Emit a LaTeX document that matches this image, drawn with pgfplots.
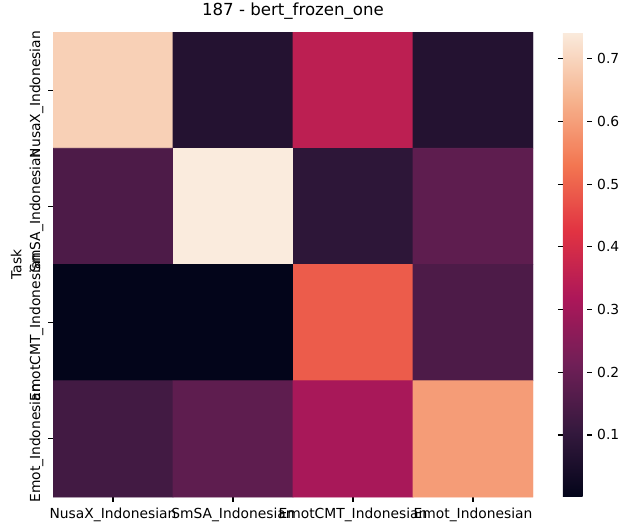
\documentclass[border=0pt]{standalone}
\usepackage{pgfplots}
\pgfplotsset{compat=1.18}
\usepackage{pgfplotstable}
\usepackage{fontspec}
\setmainfont{DejaVu Sans}
\pgfplotstableread{
x y c
0 0 0.69
1 0 0.07
2 0 0.35
3 0 0.07
0 1 0.15
1 1 0.743
2 1 0.09
3 1 0.18
0 2 0.002
1 2 0.001
2 2 0.49
3 2 0.15
0 3 0.13
1 3 0.18
2 3 0.31
3 3 0.595
}\datatable
\begin{document}
\begin{tikzpicture}
\begin{axis}[
  at={(0,0)}, anchor=south west,
  scale only axis,
  width=345.6bp, height=334.8bp,
  xmin=-0.5, xmax=3.5, ymin=-0.5, ymax=3.5,
  y dir=reverse,
  axis line style={draw=none},
  tick pos=left,
  tick align=outside,
  major tick length=3.5pt,
  every tick/.style={black, line width=0.8pt},
  xtick={0,1,2,3},
  ytick={0,1,2,3},
  xticklabels={NusaX\_Indonesian,SmSA\_Indonesian,EmotCMT\_Indonesian,Emot\_Indonesian},
  yticklabels={NusaX\_Indonesian,SmSA\_Indonesian,EmotCMT\_Indonesian,Emot\_Indonesian},
  ticklabel style={font=\fontsize{10pt}{12pt}\selectfont},
  xticklabel style={anchor=north, yshift=-1bp},
  yticklabel style={rotate=90, anchor=south, xshift=-3.2bp},
  ylabel={Task},
  every axis y label/.style={at={(axis description cs:0,0.5)}, xshift=-26.5bp, rotate=90, anchor=center, font=\fontsize{10pt}{12pt}\selectfont},
  title={187 - bert\_frozen\_one},
  title style={font=\fontsize{12pt}{14pt}\selectfont, at={(axis description cs:0.5,1)}, anchor=base, yshift=6bp},
  colormap={rocket}{rgb255=(3,5,26) rgb255=(53,25,62) rgb255=(112,31,87) rgb255=(173,23,89) rgb255=(225,51,66) rgb255=(243,118,81) rgb255=(246,180,143) rgb255=(250,235,221)},
  point meta min=0.001, point meta max=0.743,
  colorbar,
  colorbar style={
    at={(358.56bp,334.8bp)}, anchor=north west,
    width=17.28bp,
    scale only axis,
    axis line style={draw=none},
    ytick={0.1,0.2,0.3,0.4,0.5,0.6,0.7},
    yticklabel pos=right,
    tick align=outside,
    major tick length=3.5pt,
    every tick/.style={black, line width=0.8pt},
    yticklabel style={font=\fontsize{10pt}{12pt}\selectfont, inner sep=0pt, anchor=west, xshift=3.8bp, /pgf/number format/assume math mode=true, /pgf/number format/fixed, /pgf/number format/precision=1},
  },
]
\addplot[matrix plot*, mesh/cols=4, point meta=explicit] table[x=x, y=y, meta=c] {\datatable};
\end{axis}
\pgfresetboundingbox
\path[use as bounding box] (-38.16bp,-23.76bp) rectangle (414bp,357.84bp);
\end{tikzpicture}
\end{document}
